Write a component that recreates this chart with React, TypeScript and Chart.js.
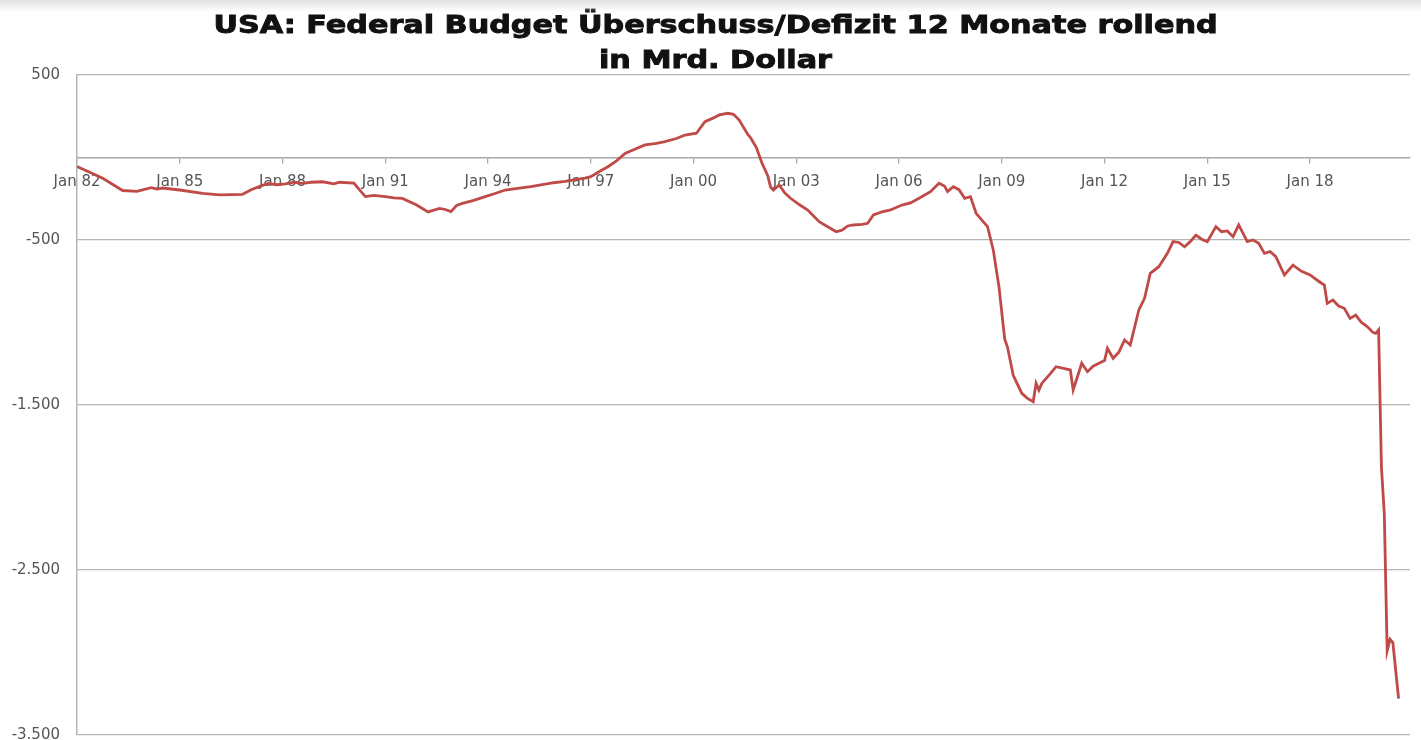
import React, { useEffect, useRef } from "react";
import { Chart, registerables } from "chart.js";

Chart.register(...registerables);

// ---------- data ----------
const titleLines = [
  "USA: Federal Budget Überschuss/Defizit 12 Monate rollend",
  "in Mrd. Dollar",
];

const dates = [
  "1982-01", "1982-10", "1983-05", "1983-10", "1984-03", "1984-05", "1984-07", "1985-01",
  "1985-09", "1986-03", "1986-11", "1987-02", "1987-05", "1987-08", "1987-11", "1988-02",
  "1988-05", "1988-08", "1988-11", "1989-03", "1989-07", "1989-09", "1990-02", "1990-06",
  "1990-09", "1991-01", "1991-04", "1991-07", "1991-12", "1992-04", "1992-08", "1992-10",
  "1992-12", "1993-02", "1993-04", "1993-08", "1993-12", "1994-04", "1994-07", "1994-12",
  "1995-04", "1995-08", "1995-12", "1996-04", "1996-07", "1996-11", "1997-01", "1997-04",
  "1997-07", "1997-10", "1998-01", "1998-05", "1998-08", "1998-12", "1999-03", "1999-07",
  "1999-10", "2000-02", "2000-05", "2000-08", "2000-10", "2001-01", "2001-03", "2001-05",
  "2001-08", "2001-09", "2001-11", "2002-01", "2002-03", "2002-04", "2002-05", "2002-07",
  "2002-09", "2002-11", "2003-02", "2003-05", "2003-09", "2003-12", "2004-03", "2004-05",
  "2004-07", "2004-09", "2004-12", "2005-02", "2005-04", "2005-07", "2005-10", "2006-02",
  "2006-05", "2006-08", "2006-12", "2007-03", "2007-05", "2007-06", "2007-08", "2007-10",
  "2007-12", "2008-02", "2008-04", "2008-06", "2008-08", "2008-10", "2008-12", "2009-02",
  "2009-03", "2009-05", "2009-08", "2009-10", "2009-12", "2010-01", "2010-02", "2010-03",
  "2010-06", "2010-08", "2010-11", "2011-01", "2011-02", "2011-05", "2011-07", "2011-09",
  "2011-11", "2012-01", "2012-02", "2012-04", "2012-06", "2012-08", "2012-10", "2013-01",
  "2013-03", "2013-05", "2013-08", "2013-11", "2014-01", "2014-03", "2014-05", "2014-07",
  "2014-09", "2014-11", "2015-01", "2015-04", "2015-06", "2015-08", "2015-10", "2015-12",
  "2016-03", "2016-05", "2016-07", "2016-09", "2016-11", "2017-01", "2017-04", "2017-07",
  "2017-10", "2018-01", "2018-04", "2018-06", "2018-07", "2018-09", "2018-11", "2019-01",
  "2019-03", "2019-05", "2019-07", "2019-09", "2019-11", "2019-12", "2020-01", "2020-02",
  "2020-03", "2020-04", "2020-05", "2020-06", "2020-08",
];

const deficit = [
  -55, -126, -200, -205, -183, -192, -185, -197,
  -217, -227, -223, -195, -175, -157, -165, -160,
  -150, -157, -150, -147, -160, -150, -155, -237,
  -230, -237, -245, -248, -288, -330, -308, -315,
  -328, -290, -278, -260, -237, -215, -197, -185,
  -177, -165, -153, -145, -136, -125, -116, -85,
  -56, -20, 25, 55, 76, 85, 96, 115,
  136, 147, 217, 240, 258, 268, 262, 227,
  140, 120, 60, -35, -110, -180, -197, -167,
  -215, -247, -285, -318, -389, -420, -450, -440,
  -415, -409, -405, -399, -348, -330, -318, -288,
  -275, -247, -207, -156, -175, -207, -177, -195,
  -247, -237, -338, -380, -419, -560, -783, -1100,
  -1150, -1320, -1429, -1460, -1480, -1369, -1410, -1369,
  -1310, -1268, -1280, -1288, -1409, -1247, -1298, -1265,
  -1247, -1230, -1156, -1217, -1180, -1106, -1136, -924,
  -853, -702, -662, -581, -510, -515, -541, -510,
  -470, -495, -510, -419, -450, -445, -480, -409,
  -510, -500, -520, -581, -570, -601, -712, -652,
  -690, -712, -750, -773, -884, -864, -900, -914,
  -975, -955, -1000, -1025, -1060, -1066, -1045, -1880,
  -2160, -2990, -2920, -2940, -3280,
];

const xTickDates = [
  "1982-01", "1985-01", "1988-01", "1991-01", "1994-01", "1997-01", "2000-01",
  "2003-01", "2006-01", "2009-01", "2012-01", "2015-01", "2018-01",
];
const xTickLabels = [
  "Jan 82", "Jan 85", "Jan 88", "Jan 91", "Jan 94", "Jan 97", "Jan 00",
  "Jan 03", "Jan 06", "Jan 09", "Jan 12", "Jan 15", "Jan 18",
];
const xRangeDates = ["1982-01", "2020-12"];
const yTicks = [500, -500, -1500, -2500, -3500];
const yRange = [-3500, 500];

// ---------- helpers ----------
const toMonth = (d: string) => {
  const [y, m] = d.split("-").map(Number);
  return (y - 1982) * 12 + (m - 1);
};

const fmtDE = (v: number) => {
  const s = Math.abs(Math.round(v)).toString().replace(/\B(?=(\d{3})+(?!\d))/g, ".");
  return (v < 0 ? "-" : "") + s;
};

// Title drawn wide and heavy like the original (horizontally stretched bold type)
const wideTitle = {
  id: "wideTitle",
  afterDraw(chart: any) {
    const ctx = chart.ctx as CanvasRenderingContext2D;
    const lineY = [27, 62];
    ctx.save();
    ctx.font = "bold 24px 'DejaVu Sans', Verdana, sans-serif";
    ctx.fillStyle = "#111111";
    ctx.strokeStyle = "#111111";
    ctx.lineWidth = 0.9;
    ctx.textAlign = "center";
    ctx.textBaseline = "middle";
    titleLines.forEach((t, i) => {
      ctx.save();
      ctx.translate(chart.width / 2 + 5, lineY[i]);
      ctx.scale(1.26, 1);
      ctx.fillText(t, 0, 0);
      ctx.strokeText(t, 0, 0);
      ctx.restore();
    });
    ctx.restore();
  },
};

export default function App() {
  const ref = useRef<HTMLCanvasElement | null>(null);

  useEffect(() => {
    if (!ref.current) return;
    Chart.defaults.font.family = "'DejaVu Sans', Verdana, sans-serif";

    const points = dates.map((d, i) => ({ x: toMonth(d), y: deficit[i] }));
    const xTickVals = xTickDates.map(toMonth);

    const chart = new Chart(ref.current, {
      type: "line",
      data: {
        datasets: [
          {
            data: points,
            borderColor: "#bf4a47",
            borderWidth: 2.8,
            pointRadius: 0,
            tension: 0,
            fill: false,
          },
        ],
      },
      plugins: [wideTitle],
      options: {
        animation: false,
        responsive: true,
        maintainAspectRatio: false,
        layout: { padding: { left: 0, right: 11, top: 75, bottom: 0 } },
        plugins: {
          legend: { display: false },
          tooltip: { enabled: false },
          title: { display: false },
        },
        scales: {
          x: {
            type: "linear",
            position: { y: 0 } as any,
            min: toMonth(xRangeDates[0]),
            max: toMonth(xRangeDates[1]),
            afterBuildTicks: (scale: any) => {
              scale.ticks = xTickVals.map((v) => ({ value: v }));
            },
            ticks: {
              autoSkip: false,
              maxRotation: 0,
              padding: 11,
              color: "#555555",
              font: { size: 15 },
              callback: (value: any) => {
                const idx = xTickVals.indexOf(Number(value));
                return idx >= 0 ? xTickLabels[idx] : "";
              },
            },
            grid: {
              display: true,
              drawOnChartArea: false,
              drawTicks: true,
              tickLength: 5,
              color: "#a8a8a8",
              lineWidth: 1.3,
            },
            border: { display: true, color: "#a8a8a8", width: 1.5 },
          },
          y: {
            type: "linear",
            min: yRange[0],
            max: yRange[1],
            afterBuildTicks: (scale: any) => {
              scale.ticks = yTicks.map((v) => ({ value: v }));
            },
            afterFit: (scale: any) => {
              scale.width = 77;
            },
            ticks: {
              padding: 17,
              color: "#555555",
              font: { size: 15 },
              callback: (value: any) => fmtDE(Number(value)),
            },
            grid: { color: "#b5b5b5", lineWidth: 1.3, drawTicks: false },
            border: { display: true, color: "#b5b5b5", width: 1.5 },
          },
        },
      },
    });
    return () => chart.destroy();
  }, []);

  return (
    <div
      style={{
        position: "absolute",
        left: 0,
        top: 0,
        width: 1421,
        height: 740,
        overflow: "hidden",
        background: "#ffffff",
      }}
    >
      <div style={{ position: "relative", width: 1421, height: 761 }}>
        <canvas ref={ref} />
      </div>
      <div
        style={{
          position: "absolute",
          left: 0,
          top: 0,
          width: 1421,
          height: 12,
          background: "linear-gradient(#e2e2e2, rgba(255,255,255,0))",
          pointerEvents: "none",
        }}
      />
    </div>
  );
}
